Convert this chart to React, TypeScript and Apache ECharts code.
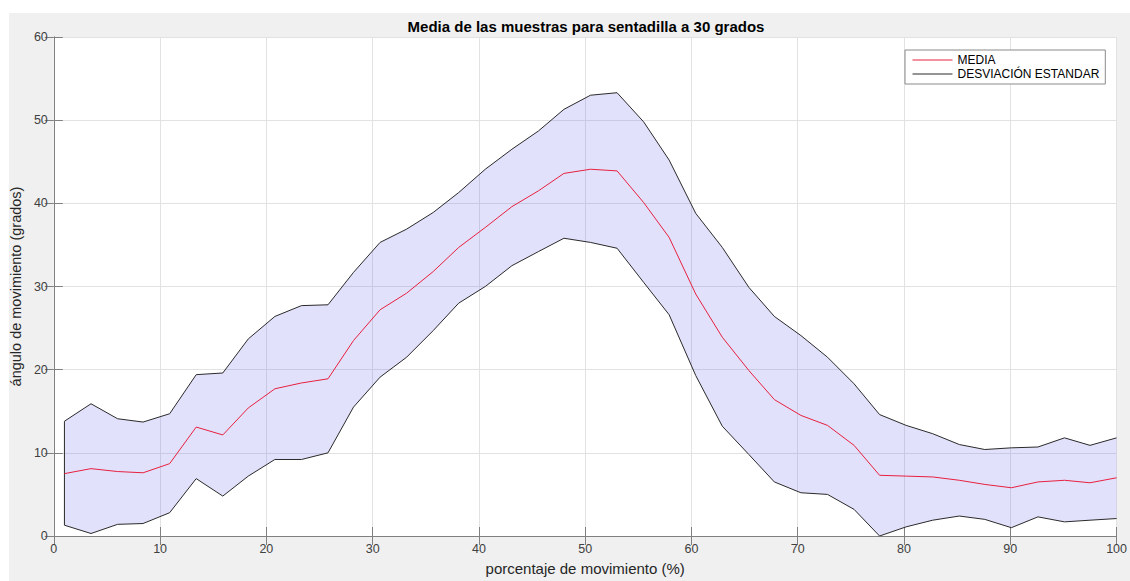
import React, { useEffect, useRef } from 'react';
import * as echarts from 'echarts';

const xPct = [1, 3.5, 6, 8.4, 10.9, 13.4, 15.9, 18.3, 20.8, 23.3, 25.8, 28.2, 30.7, 33.2, 35.7, 38.1, 40.6, 43.1, 45.6, 48, 50.5, 53, 55.5, 57.9, 60.4, 62.9, 65.4, 67.8, 70.3, 72.8, 75.3, 77.7, 80.2, 82.7, 85.2, 87.6, 90.1, 92.6, 95.1, 97.5, 100];

const mediaValues = [7.5, 8.1, 7.75, 7.6, 8.7, 13.1, 12.15, 15.4, 17.7, 18.4, 18.9, 23.5, 27.2, 29.2, 31.8, 34.7, 37.1, 39.6, 41.5, 43.6, 44.1, 43.9, 40.1, 35.9, 29.1, 23.9, 19.9, 16.4, 14.5, 13.3, 10.9, 7.3, 7.2, 7.1, 6.7, 6.2, 5.8, 6.5, 6.7, 6.4, 7.0];

const upperValues = [13.8, 15.9, 14.1, 13.7, 14.7, 19.4, 19.6, 23.7, 26.4, 27.7, 27.8, 31.7, 35.3, 36.9, 38.9, 41.3, 44.1, 46.5, 48.7, 51.3, 53.0, 53.3, 49.8, 45.2, 38.8, 34.7, 29.9, 26.4, 24.1, 21.5, 18.3, 14.6, 13.3, 12.3, 11.0, 10.4, 10.6, 10.7, 11.8, 10.9, 11.8];

const lowerValues = [1.3, 0.3, 1.4, 1.5, 2.8, 6.9, 4.8, 7.2, 9.2, 9.2, 10.0, 15.5, 19.1, 21.5, 24.7, 28.0, 30.0, 32.5, 34.2, 35.8, 35.3, 34.6, 30.5, 26.6, 19.3, 13.2, 9.8, 6.5, 5.2, 5.0, 3.2, 0.0, 1.1, 1.9, 2.4, 2.0, 1.0, 2.3, 1.7, 1.9, 2.1];

const titleText = 'Media de las muestras para sentadilla a 30 grados';
const xName = 'porcentaje de movimiento (%)';
const yName = 'ángulo de movimiento (grados)';
const meanName = 'MEDIA';
const sdName = 'DESVIACIÓN ESTANDAR';

export default function App() {
  const ref = useRef<HTMLDivElement>(null);

  useEffect(() => {
    document.body.style.margin = '0';
    const chart = echarts.init(ref.current as HTMLDivElement, null, { renderer: 'svg' });
    const font = "'Liberation Sans', Arial, Helvetica, sans-serif";
    const axisColor = '#808080';
    const labelColor = '#404040';
    const gridColor = '#e2e2e2';
    const bandData = xPct.map((x, i) => [x, lowerValues[i], upperValues[i]]);

    const axisCommon = {
      type: 'value',
      axisLine: { show: true, lineStyle: { color: axisColor, width: 1 } },
      axisTick: { show: true, inside: true, length: 9, lineStyle: { color: axisColor } },
    };

    const option: any = {
      animation: false,
      backgroundColor: 'transparent',
      textStyle: { fontFamily: font },
      title: {
        text: titleText,
        left: 586,
        top: 19,
        padding: 0,
        textAlign: 'center',
        textStyle: { fontFamily: font, fontSize: 15, fontWeight: 'bold', color: '#000' },
      },
      legend: {
        data: [meanName, sdName],
        orient: 'vertical',
        align: 'left',
        left: 905,
        top: 50,
        padding: [4, 6, 4, 7],
        itemGap: 2,
        itemWidth: 40,
        itemHeight: 12,
        backgroundColor: '#fff',
        borderColor: '#8a8a8a',
        borderWidth: 1,
        itemStyle: { opacity: 0 },
        lineStyle: { width: 1 },
        textStyle: { fontFamily: font, fontSize: 12, color: '#000' },
      },
      grid: {
        left: 53,
        top: 37,
        width: 1065,
        height: 500,
        show: true,
        backgroundColor: '#fff',
        borderWidth: 0,
      },
      xAxis: [
        {
          ...axisCommon,
          position: 'bottom',
          min: 0,
          max: 100,
          interval: 10,
          axisLabel: { show: true, margin: 6, color: labelColor, fontSize: 12.5, fontFamily: font },
          splitLine: { show: true, lineStyle: { color: gridColor, width: 1 } },
          name: xName,
          nameLocation: 'middle',
          nameGap: 25,
          nameTextStyle: { fontFamily: font, fontSize: 15, color: '#262626' },
        },
        {
          ...axisCommon,
          position: 'top',
          min: 0,
          max: 100,
          interval: 10,
          axisLabel: { show: false },
          splitLine: { show: false },
        },
      ],
      yAxis: [
        {
          ...axisCommon,
          position: 'left',
          min: 0,
          max: 60,
          interval: 10,
          axisLabel: { show: true, margin: 6, color: labelColor, fontSize: 12.5, fontFamily: font },
          splitLine: { show: true, lineStyle: { color: gridColor, width: 1 } },
          name: yName,
          nameLocation: 'middle',
          nameGap: 18,
          nameTextStyle: { fontFamily: font, fontSize: 14.5, color: '#262626' },
        },
        {
          ...axisCommon,
          position: 'right',
          min: 0,
          max: 60,
          interval: 10,
          axisLabel: { show: false },
          splitLine: { show: false },
        },
      ],
      series: [
        {
          type: 'custom',
          name: 'banda',
          xAxisIndex: 0,
          yAxisIndex: 0,
          silent: true,
          z: 1,
          data: bandData,
          encode: { x: 0, y: [1, 2] },
          renderItem: (params: any, api: any) => {
            if (params.dataIndex !== 0) return null;
            const pts: number[][] = [];
            for (let i = 0; i < xPct.length; i++) pts.push(api.coord([xPct[i], upperValues[i]]));
            for (let i = xPct.length - 1; i >= 0; i--) pts.push(api.coord([xPct[i], lowerValues[i]]));
            return {
              type: 'polygon',
              shape: { points: pts },
              style: { fill: 'rgba(105,105,235,0.2)', stroke: 'none' },
            };
          },
        },
        {
          type: 'line',
          name: sdName,
          data: xPct.map((x, i) => [x, upperValues[i]]),
          symbol: 'none',
          lineStyle: { color: '#2a2a2a', width: 1 },
          itemStyle: { color: '#2a2a2a' },
          z: 3,
        },
        {
          type: 'line',
          name: sdName,
          data: xPct.map((x, i) => [x, lowerValues[i]]),
          symbol: 'none',
          lineStyle: { color: '#2a2a2a', width: 1 },
          itemStyle: { color: '#2a2a2a' },
          z: 3,
        },
        {
          type: 'line',
          name: sdName,
          data: [
            [xPct[0], lowerValues[0]],
            [xPct[0], upperValues[0]],
          ],
          symbol: 'none',
          lineStyle: { color: '#2a2a2a', width: 1 },
          itemStyle: { color: '#2a2a2a' },
          z: 3,
        },
        {
          type: 'line',
          name: meanName,
          data: xPct.map((x, i) => [x, mediaValues[i]]),
          symbol: 'none',
          lineStyle: { color: '#e8203f', width: 1 },
          itemStyle: { color: '#ff3030' },
          z: 4,
        },
      ],
    };

    chart.setOption(option);
    return () => {
      chart.dispose();
    };
  }, []);

  return (
    <div style={{ position: 'absolute', left: 0, top: 0, width: 1130, height: 581, background: '#fff' }}>
      <div style={{ position: 'absolute', left: 9, top: 13, width: 1121, height: 568, background: '#f0f0f0' }} />
      <div ref={ref} style={{ position: 'absolute', left: 0, top: 0, width: 1130, height: 581 }} />
    </div>
  );
}
